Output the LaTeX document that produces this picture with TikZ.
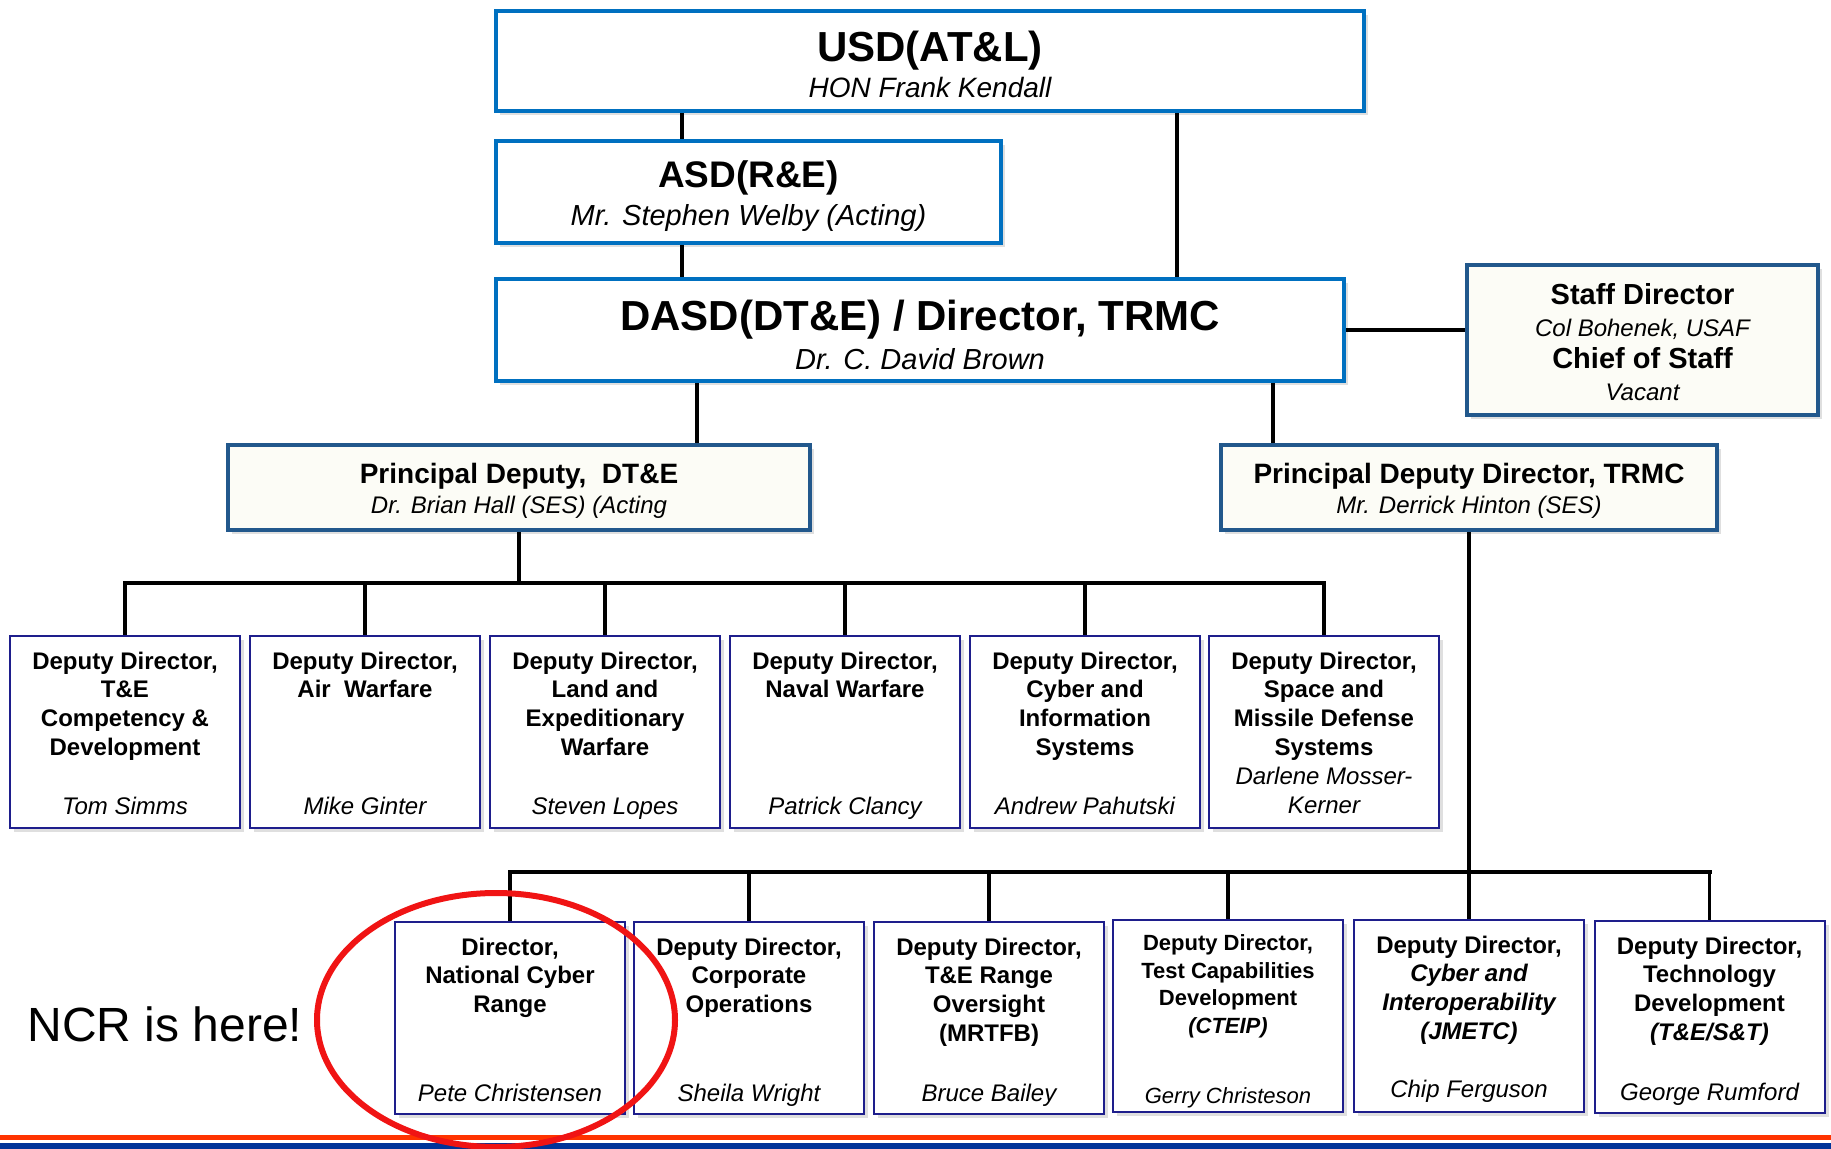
\documentclass[tikz,border=0pt]{standalone}
\usepackage{fontspec}
\setmainfont{Liberation Sans}
\usetikzlibrary{shadows}

\definecolor{topblue}{RGB}{0,112,192}
\definecolor{bevelblue}{RGB}{34,88,140}
\definecolor{ivory}{RGB}{252,252,246}
\definecolor{navy}{RGB}{30,30,140}
\definecolor{stripered}{RGB}{255,51,0}
\definecolor{stripeblue}{RGB}{0,51,153}
\definecolor{ringred}{RGB}{240,20,20}

\begin{document}
\begin{tikzpicture}[x=0.5pt,y=-0.5pt,
% common options for the boxes at the top:
topbox/.style = {draw=topblue, line width=2pt, fill=white, align=center, inner sep=0,
            drop shadow={shadow xshift=2pt, shadow yshift=-2pt, opacity=0.25}},
% principal deputies and staff:
pdbox/.style = {draw=bevelblue, line width=2.4pt, fill=ivory, align=center, inner sep=0,
            drop shadow={shadow xshift=2pt, shadow yshift=-2pt, opacity=0.25}},
% deputy director boxes:
ddbox/.style = {draw=navy, line width=1pt, fill=white, minimum width=115pt,
            minimum height=96pt, inner sep=0,
            drop shadow={shadow xshift=2pt, shadow yshift=-2pt, opacity=0.25}},
ddtitle/.style = {align=center, anchor=north, inner sep=0,
            font=\fontsize{12}{14.4}\selectfont\bfseries},
ddname/.style = {anchor=base, inner sep=0, font=\fontsize{12}{14.4}\selectfont\itshape},
link/.style = {line width=1.6pt},
bus/.style = {line width=2.2pt, line cap=rect}]
\useasboundingbox (0,0) rectangle (1831,1149);

% top of the chart
\node[topbox, minimum width=434pt, minimum height=50pt,
      font=\fontsize{14}{18}\selectfont\itshape] (usd) at (930,61)
      {{\fontsize{21}{25}\selectfont\bfseries\upshape\rule{0pt}{19pt}USD(AT\&L)}\\HON Frank Kendall};
\node[topbox, minimum width=252.5pt, minimum height=51pt,
      font=\fontsize{14.5}{18.7}\selectfont\itshape] (asd) at (748.5,192)
      {{\fontsize{18.5}{22}\selectfont\bfseries\upshape\rule{0pt}{17.5pt}ASD(R\&E)}\\Mr. Stephen Welby (Acting)};
\node[topbox, minimum width=424pt, minimum height=51pt,
      font=\fontsize{14.5}{19.4}\selectfont\itshape] (dasd) at (920,330)
      {{\fontsize{21}{25}\selectfont\bfseries\upshape\rule{0pt}{20.3pt}DASD(DT\&E) / Director, TRMC}\\Dr. C. David Brown};
\node[pdbox, minimum width=175.5pt, minimum height=75pt,
      font=\fontsize{12}{16}\selectfont\itshape] (staff) at (1642.5,340)
      {{\fontsize{14.5}{16}\selectfont\bfseries\upshape\rule{0pt}{13pt}Staff Director}\\Col Bohenek, USAF\\
       {\fontsize{14.5}{16}\selectfont\bfseries\upshape Chief of Staff}\\Vacant};
\node[pdbox, minimum width=291pt, minimum height=42.5pt,
      font=\fontsize{12}{15}\selectfont\itshape] (pddte) at (519,487.5)
      {{\fontsize{14}{15}\selectfont\bfseries\upshape\rule{0pt}{13.7pt}Principal Deputy,~ DT\&E}\\Dr. Brian Hall (SES) (Acting};
\node[pdbox, minimum width=248pt, minimum height=42.5pt,
      font=\fontsize{12}{15}\selectfont\itshape] (pdtrmc) at (1469,487.5)
      {{\fontsize{14}{15}\selectfont\bfseries\upshape\rule{0pt}{13.7pt}Principal Deputy Director, TRMC}\\Mr. Derrick Hinton (SES)};

% DT&E deputies
\node[ddbox] (dd1) at (125,732) {};
\node[ddtitle] (dd1t) at ([yshift=-8.2pt]dd1.north) {Deputy Director,\\T\&E\\Competency \&\\Development};
\node[ddname] (dd1n) at ([yshift=7.3pt]dd1.south) {Tom Simms};
\node[ddbox] (dd2) at (365,732) {};
\node[ddtitle] (dd2t) at ([yshift=-8.2pt]dd2.north) {Deputy Director,\\Air~ Warfare};
\node[ddname] (dd2n) at ([yshift=7.3pt]dd2.south) {Mike Ginter};
\node[ddbox] (dd3) at (605,732) {};
\node[ddtitle] (dd3t) at ([yshift=-8.2pt]dd3.north) {Deputy Director,\\Land and\\Expeditionary\\Warfare};
\node[ddname] (dd3n) at ([yshift=7.3pt]dd3.south) {Steven Lopes};
\node[ddbox] (dd4) at (845,732) {};
\node[ddtitle] (dd4t) at ([yshift=-8.2pt]dd4.north) {Deputy Director,\\Naval Warfare};
\node[ddname] (dd4n) at ([yshift=7.3pt]dd4.south) {Patrick Clancy};
\node[ddbox] (dd5) at (1085,732) {};
\node[ddtitle] (dd5t) at ([yshift=-8.2pt]dd5.north) {Deputy Director,\\Cyber and\\Information\\Systems};
\node[ddname] (dd5n) at ([yshift=7.3pt]dd5.south) {Andrew Pahutski};
\node[ddbox] (dd6) at (1324,732) {};
\node[ddtitle] (dd6t) at ([yshift=-8.2pt]dd6.north) {Deputy Director,\\Space and\\Missile Defense\\Systems\\
      {\mdseries\itshape Darlene Mosser-}\\{\mdseries\itshape Kerner}};

% TRMC deputies
\node[ddbox] (rr1) at (510,1018) {};
\node[ddtitle] (rr1t) at ([yshift=-8.2pt]rr1.north) {Director,\\National Cyber\\Range};
\node[ddname] (rr1n) at ([yshift=7pt]rr1.south) {Pete Christensen};
\node[ddbox] (rr2) at (749,1018) {};
\node[ddtitle] (rr2t) at ([yshift=-8.2pt]rr2.north) {Deputy Director,\\Corporate\\Operations};
\node[ddname] (rr2n) at ([yshift=7pt]rr2.south) {Sheila Wright};
\node[ddbox] (rr3) at (989,1018) {};
\node[ddtitle] (rr3t) at ([yshift=-8.2pt]rr3.north) {Deputy Director,\\T\&E Range\\Oversight\\(MRTFB)};
\node[ddname] (rr3n) at ([yshift=7pt]rr3.south) {Bruce Bailey};
\node[ddbox] (rr4) at (1228,1016) {};
\node[ddtitle, font=\fontsize{11}{13.8}\selectfont\bfseries] (rr4t) at ([yshift=-7.6pt]rr4.north)
      {Deputy Director,\\Test Capabilities\\Development\\{\itshape (CTEIP)}};
\node[ddname, font=\fontsize{11}{13.8}\selectfont\itshape] (rr4n) at ([yshift=5pt]rr4.south) {Gerry Christeson};
\node[ddbox] (rr5) at (1469,1016) {};
\node[ddtitle] (rr5t) at ([yshift=-8.2pt]rr5.north) {Deputy Director,\\{\itshape Cyber and}\\
      {\itshape Interoperability}\\{\itshape (JMETC)}};
\node[ddname] (rr5n) at ([yshift=8pt]rr5.south) {Chip Ferguson};
\node[ddbox] (rr6) at (1709.5,1017) {};
\node[ddtitle] (rr6t) at ([yshift=-8.2pt]rr6.north) {Deputy Director,\\Technology\\Development\\{\itshape (T\&E/S\&T)}};
\node[ddname] (rr6n) at ([yshift=7pt]rr6.south) {George Rumford};

% connectors
\coordinate (spineA) at (682,0);
\coordinate (spineB) at (1177,0);
\coordinate (spineC) at (697,0);
\coordinate (spineD) at (1273,0);
\coordinate (busA) at (0,583);
\coordinate (busB) at (0,872);
\draw[link] (usd.south -| spineA) -- (asd.north -| spineA);
\draw[link] (asd.south -| spineA) -- (dasd.north -| spineA);
\draw[link] (usd.south -| spineB) -- (dasd.north -| spineB);
\draw[link] (dasd.east) -- (dasd.east -| staff.west);
\draw[link] (dasd.south -| spineC) -- (pddte.north -| spineC);
\draw[link] (dasd.south -| spineD) -- (pdtrmc.north -| spineD);
\draw[link] (pddte.south) -- (pddte.south |- busA);
\draw[bus] (dd1.north |- busA) -- (dd6.north |- busA);
\foreach \i in {1,...,6}
  \draw[link] (dd\i.north |- busA) -- (dd\i.north);
\draw[link] (pdtrmc.south) -- (rr5.north);
\draw[bus] (rr1.north |- busB) -- (rr6.north |- busB);
\foreach \i in {1,...,6}
  \draw[link] (rr\i.north |- busB) -- (rr\i.north);

% stripes along the bottom
\fill[stripered] (0,1135) rectangle (1831,1140);
\fill[stripeblue] (0,1143) rectangle (1831,1149);

% note and ring
\node[font=\fontsize{24}{28}\selectfont] (ncrnote) at (165,1024) {NCR is here!};
\draw[ringred, line width=3pt] ([xshift=-7pt,yshift=-1pt]rr1.center) ellipse [x radius=179, y radius=127];
\end{tikzpicture}
\end{document}
